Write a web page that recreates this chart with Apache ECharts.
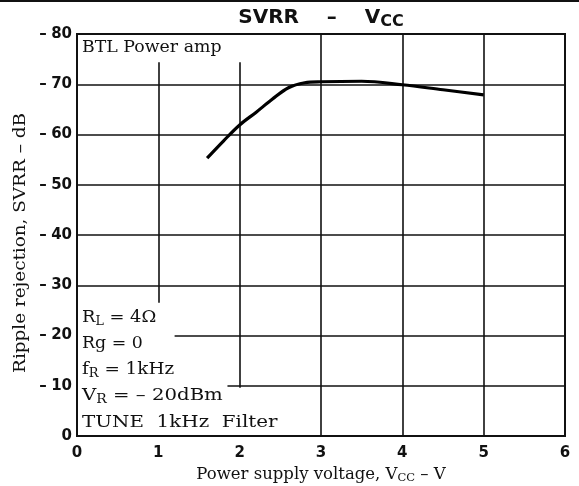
<!DOCTYPE html>
<html>
<head>
<meta charset="utf-8">
<script src="https://cdn.jsdelivr.net/npm/echarts@6/dist/echarts.min.js"></script>
<style>
  html, body { margin: 0; padding: 0; background: #fff; }
  #chart { width: 579px; height: 486px; }
</style>
</head>
<body>
<div id="chart"></div>
<script>
// SVRR versus supply voltage, BTL power amp
const vccVolts = [1.6, 1.8, 2.0, 2.2, 2.4, 2.6, 2.8, 3.0, 3.5, 4.0, 4.5, 5.0];
const svrrDb   = [-55.3, -58.7, -61.9, -64.4, -67.0, -69.3, -70.3, -70.5, -70.6, -69.9, -68.9, -67.9];

const xTicks = [0, 1, 2, 3, 4, 5, 6];
const yTicks = [0, -10, -20, -30, -40, -50, -60, -70, -80];

// Grid segments; some are cut short to leave room for the condition notes
const gridSegments = [
  [[1, -74.4], [1, -26.5]],
  [[2, -74.4], [2, -9.6]],
  [[3, -80], [3, 0]],
  [[4, -80], [4, 0]],
  [[5, -80], [5, 0]],
  [[0, -70], [6, -70]],
  [[0, -60], [6, -60]],
  [[0, -50], [6, -50]],
  [[0, -40], [6, -40]],
  [[0, -30], [6, -30]],
  [[1.2, -20], [6, -20]],
  [[1.85, -10], [6, -10]]
];

const serif = '"DejaVu Serif", "Liberation Serif", serif';
const sans = '"DejaVu Sans", "Liberation Sans", sans-serif';

const chart = echarts.init(document.getElementById('chart'), null, { renderer: 'canvas' });

const noteStyle = {
  a: { fontFamily: serif, fontSize: 17, fill: '#111' },
  s: { fontFamily: serif, fontSize: 12, fill: '#111', padding: [8, 0, 0, 0] }
};

// condition note: rich text at a given position, stretched a little horizontally
function note(text, x, y, sx) {
  return {
    type: 'text', x: x, y: y, scaleX: sx, scaleY: 1,
    style: { text: text, rich: noteStyle, textVerticalAlign: 'middle' }
  };
}

chart.setOption({
  animation: false,
  backgroundColor: '#fff',
  title: {
    text: '{t|SVRR    –    V}{s|CC}',
    left: 316,
    top: 1,
    textAlign: 'center',
    textStyle: {
      rich: {
        t: { fontFamily: sans, fontSize: 20, fontWeight: 'bold', color: '#111' },
        s: { fontFamily: sans, fontSize: 16, fontWeight: 'bold', color: '#111', padding: [8, 0, 0, 0] }
      }
    }
  },
  grid: {
    left: 77, right: 14, top: 34, bottom: 50,
    containLabel: false,
    outerBoundsMode: 'none',
    show: true, borderColor: '#111', borderWidth: 2, backgroundColor: 'transparent'
  },
  xAxis: {
    type: 'value',
    min: 0, max: 6, interval: 1,
    axisLine: { show: false },
    axisTick: { show: false },
    splitLine: { show: false },
    axisLabel: {
      margin: 10,
      fontFamily: sans, fontSize: 15, fontWeight: 'bold', color: '#111',
      formatter: v => xTicks.includes(v) ? String(v) : ''
    },
    name: '{a|Power supply voltage, V}{s|CC}{a| – V}',
    nameLocation: 'middle',
    nameGap: 28,
    nameTextStyle: {
      rich: {
        a: { fontFamily: serif, fontSize: 16.5, color: '#111' },
        s: { fontFamily: serif, fontSize: 11.5, color: '#111', padding: [8, 0, 0, 0] }
      }
    }
  },
  yAxis: {
    type: 'value',
    min: -80, max: 0, interval: 10,
    inverse: true,
    axisLine: { show: false },
    axisTick: { show: false },
    splitLine: { show: false },
    axisLabel: {
      margin: 5,
      fontFamily: sans, fontSize: 15, fontWeight: 'bold', color: '#111',
      formatter: v => yTicks.includes(v) ? (v === 0 ? '0' : '–\u2009\u200a' + Math.abs(v)) : ''
    }
  },
  series: [
    {
      type: 'line',
      data: [],
      silent: true,
      markLine: {
        silent: true,
        symbol: 'none',
        label: { show: false },
        lineStyle: { color: '#111', width: 1.6, type: 'solid' },
        data: gridSegments.map(seg => [{ coord: seg[0] }, { coord: seg[1] }])
      }
    },
    {
      type: 'line',
      data: vccVolts.map((v, i) => [v, svrrDb[i]]),
      smooth: 0.35,
      showSymbol: false,
      lineStyle: { color: '#000', width: 3.2 },
      z: 5
    }
  ],
  graphic: [
    { type: 'rect', shape: { x: 0, y: 0, width: 579, height: 2 }, style: { fill: '#111' } },
    {
      type: 'text', x: 20, y: 243, rotation: Math.PI / 2, scaleX: 1.05,
      style: {
        text: 'Ripple rejection, SVRR – dB',
        font: '17.5px ' + serif, fill: '#111',
        textAlign: 'center', textVerticalAlign: 'middle'
      }
    },
    note('{a|BTL Power amp}', 82, 48, 1.02),
    note('{a|R}{s|L}{a| = 4Ω}', 82, 318, 1.05),
    note('{a|Rg = 0}', 82, 344, 1.02),
    note('{a|f}{s|R}{a| = 1kHz}', 82, 370, 1.08),
    note('{a|V}{s|R}{a| = – 20dBm}', 82, 396, 1.16),
    note('{a|TUNE  1kHz  Filter}', 82, 423, 1.17)
  ]
});
</script>
</body>
</html>
